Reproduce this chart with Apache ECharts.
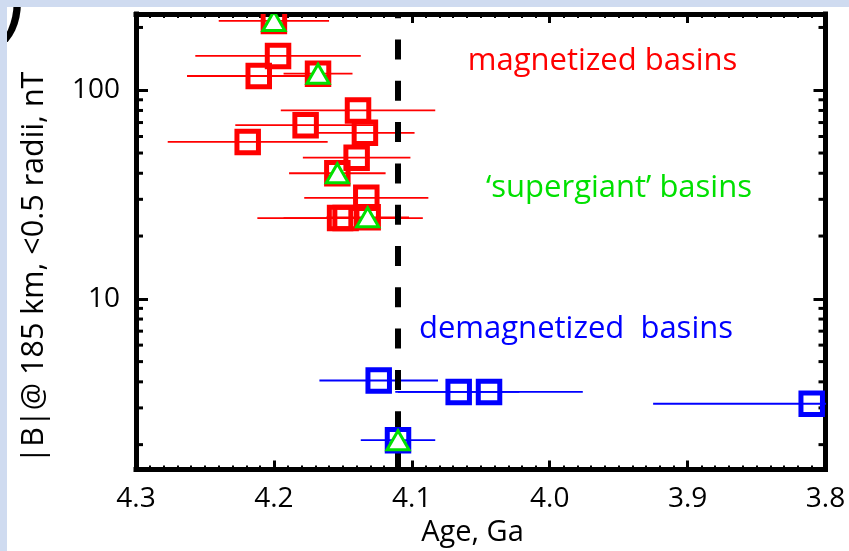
<!DOCTYPE html>
<html>
<head>
<meta charset="utf-8">
<script src="https://cdn.jsdelivr.net/npm/echarts@6/dist/echarts.min.js"></script>
<style>
  html, body { margin: 0; padding: 0; background: #ffffff; }
  #chart { width: 849px; height: 551px; }
</style>
</head>
<body>
<div id="chart"></div>
<script>
// Magnetized basins: age (Ga), age uncertainty (Ga), field |B| (nT), supergiant flag
const magAge      = [4.200, 4.197, 4.211, 4.168, 4.139, 4.177, 4.134, 4.219, 4.140, 4.154, 4.133, 4.152, 4.148, 4.132];
const magAgeErr   = [0.040, 0.060, 0.052, 0.025, 0.056, 0.051, 0.036, 0.058, 0.039, 0.035, 0.045, 0.060, 0.045, 0.030];
const magField    = [215, 146, 117, 120, 80, 68, 62.5, 56.5, 47.5, 40, 30.5, 24.4, 24.4, 24.6];
const magSuper    = [1, 0, 0, 1, 0, 0, 0, 0, 0, 1, 0, 0, 0, 1];

// Demagnetized basins
const demagAge    = [4.124, 4.066, 4.044, 3.810, 4.110];
const demagAgeErr = [0.043, 0.044, 0.068, 0.115, 0.027];
const demagField  = [4.06, 3.58, 3.58, 3.14, 2.10];
const demagSuper  = [0, 0, 0, 0, 1];

// Axes
const ageRange = [3.8, 4.3];
const ageStep = 0.1;
const fieldRange = [1.52, 232];
const fieldTickLabels = [10, 100];
const fieldMinorTicks = [2, 3, 4, 5, 6, 7, 8, 9, 20, 30, 40, 50, 60, 70, 80, 90, 200];
const boundaryAge = 4.11;

const RED = '#ff0000', GREEN = '#00e000', BLUE = '#0000ff';
const FONT = 'Open Sans';

const rows = (age, err, f) => age.map((a, i) => [a, f[i], err[i]]);
const supers = (age, f, flags) => age.map((a, i) => [a, f[i]]).filter((_, i) => flags[i]);

function errorBar(color) {
  return (params, api) => {
    const lo = api.coord([api.value(0) - api.value(2), api.value(1)]);
    const hi = api.coord([api.value(0) + api.value(2), api.value(1)]);
    return { type: 'line', shape: { x1: lo[0], y1: lo[1], x2: hi[0], y2: hi[1] },
             style: { stroke: color, lineWidth: 1.8 } };
  };
}
function square(color) {
  return (params, api) => {
    const c = api.coord([api.value(0), api.value(1)]);
    const s = 21.5;
    return { type: 'rect', shape: { x: c[0] - s / 2, y: c[1] - s / 2, width: s, height: s },
             style: { fill: 'none', stroke: color, lineWidth: 5 } };
  };
}
function triangle(params, api) {
  const c = api.coord([api.value(0), api.value(1)]);
  const w = 22, h = 19;
  return { type: 'polygon',
           shape: { points: [[c[0], c[1] - h / 2], [c[0] - w / 2, c[1] + h / 2], [c[0] + w / 2, c[1] + h / 2]] },
           style: { fill: '#ffffff', stroke: GREEN, lineWidth: 3 } };
}
function minorTicks(params, api) {
  const v = api.value(0);
  const l = api.coord([ageRange[1], v]);
  const r = api.coord([ageRange[0], v]);
  return { type: 'group', children: [
    { type: 'line', shape: { x1: l[0], y1: l[1], x2: l[0] + 7, y2: l[1] }, style: { stroke: '#000', lineWidth: 3 } },
    { type: 'line', shape: { x1: r[0], y1: r[1], x2: r[0] - 7, y2: r[1] }, style: { stroke: '#000', lineWidth: 3 } }
  ] };
}

const frameLine = { show: true, lineStyle: { color: '#000', width: 5, cap: 'square' } };
const xCommon = {
  type: 'value', min: ageRange[0], max: ageRange[1], interval: ageStep, inverse: true,
  axisLine: frameLine, splitLine: { show: false },
  axisTick: { show: true, inside: true, length: 9, lineStyle: { color: '#000', width: 3 } },
  minorTick: { show: true, splitNumber: 10, length: 4, lineStyle: { color: '#000', width: 2 } }
};
const yCommon = {
  type: 'log', logBase: 10, min: fieldRange[0], max: fieldRange[1],
  axisLine: frameLine, splitLine: { show: false },
  axisTick: { show: true, inside: true, length: 12, lineStyle: { color: '#000', width: 3 } }
};

const chart = echarts.init(document.getElementById('chart'), null, { renderer: 'canvas' });
chart.setOption({
  backgroundColor: '#ffffff',
  animation: false,
  grid: { left: 136, right: 23.5, top: 14, bottom: 81.5, containLabel: false },
  xAxis: [
    Object.assign({}, xCommon, {
      position: 'bottom',
      axisLabel: { color: '#000', fontFamily: FONT, fontSize: 28, margin: 16, formatter: v => v.toFixed(1) }
    }),
    Object.assign({}, xCommon, { position: 'top', axisLabel: { show: false } })
  ],
  yAxis: [
    Object.assign({}, yCommon, {
      position: 'left',
      axisLabel: {
        color: '#000', fontFamily: FONT, fontSize: 28, margin: 16,
        formatter: v => fieldTickLabels.some(t => Math.abs(v - t) / t < 1e-6) ? String(Math.round(v)) : ''
      }
    }),
    Object.assign({}, yCommon, { position: 'right', axisLabel: { show: false } })
  ],
  graphic: [
    { type: 'text', z: 1, x: -2, y: 2, style: { text: ')', fontFamily: FONT, fontSize: 90, fill: '#000', align: 'left', verticalAlign: 'middle' } },
    { type: 'rect', z: 5, shape: { x: 0, y: 0, width: 849, height: 7 }, style: { fill: '#cfdbf0' } },
    { type: 'rect', z: 5, shape: { x: 0, y: 0, width: 7, height: 551 }, style: { fill: '#cfdbf0' } },
    { type: 'text', z: 10, x: 602.5, y: 61, style: { text: 'magnetized basins', fontFamily: FONT, fontSize: 31, fill: RED, align: 'center', verticalAlign: 'middle' } },
    { type: 'text', z: 10, x: 619, y: 188, style: { text: '\u2018supergiant\u2019 basins', fontFamily: FONT, fontSize: 31, fill: GREEN, align: 'center', verticalAlign: 'middle' } },
    { type: 'text', z: 10, x: 576, y: 329, style: { text: 'demagnetized  basins', fontFamily: FONT, fontSize: 31, fill: BLUE, align: 'center', verticalAlign: 'middle' } },
    { type: 'text', z: 10, x: 472.5, y: 533, style: { text: 'Age, Ga', fontFamily: FONT, fontSize: 29, fill: '#000', align: 'center', verticalAlign: 'middle' } },
    { type: 'text', z: 10, x: 34, y: 267.5, rotation: Math.PI / 2, style: { text: '|B|@ 185 km, <0.5 radii, nT', fontFamily: FONT, fontSize: 30.5, fill: '#000', align: 'center', verticalAlign: 'middle' } }
  ],
  series: [
    { type: 'custom', name: 'minor ticks', renderItem: minorTicks, data: fieldMinorTicks.map(v => [v]), encode: { y: 0 }, silent: true, clip: false, z: 1 },
    { type: 'custom', name: 'magnetized errors', renderItem: errorBar(RED), data: rows(magAge, magAgeErr, magField), encode: { x: 0, y: 1 }, clip: true, z: 2 },
    { type: 'custom', name: 'demagnetized errors', renderItem: errorBar(BLUE), data: rows(demagAge, demagAgeErr, demagField), encode: { x: 0, y: 1 }, clip: true, z: 2 },
    { type: 'line', name: 'boundary', data: [[boundaryAge, fieldRange[0]], [boundaryAge, fieldRange[1]]], symbol: 'none',
      lineStyle: { color: '#000', width: 6, type: [20, 21.3], dashOffset: 3, cap: 'butt' }, z: 3, silent: true },
    { type: 'custom', name: 'magnetized basins', renderItem: square(RED), data: rows(magAge, magAgeErr, magField), encode: { x: 0, y: 1 }, clip: true, z: 4 },
    { type: 'custom', name: 'demagnetized basins', renderItem: square(BLUE), data: rows(demagAge, demagAgeErr, demagField), encode: { x: 0, y: 1 }, clip: true, z: 4 },
    { type: 'custom', name: 'supergiant basins', renderItem: triangle,
      data: supers(magAge, magField, magSuper).concat(supers(demagAge, demagField, demagSuper)), encode: { x: 0, y: 1 }, clip: true, z: 5 }
  ]
});
</script>
</body>
</html>
